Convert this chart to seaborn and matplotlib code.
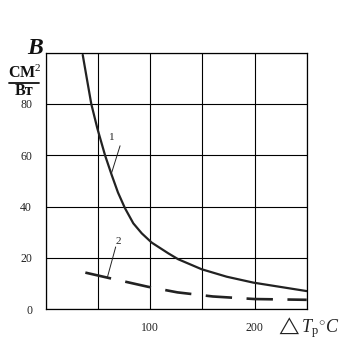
import numpy as np
import pandas as pd
import seaborn as sns
import matplotlib
matplotlib.use("Agg")
import matplotlib.pyplot as plt

# data
x1 = [35.2, 39, 43.4, 49.2, 56.6, 63, 69, 75.7, 83.7, 91.8, 101.3, 117.3, 126.8, 149.3, 173.3, 198.8, 250]
y1 = [99.1, 90.2, 80, 70.5, 60, 52.3, 45.5, 39.4, 33.5, 29.6, 26.0, 21.8, 19.5, 15.6, 12.7, 10.4, 7.1]
x2 = [37.7, 60.3, 97.5, 126, 160, 200, 250]
y2 = [14.3, 12.2, 8.8, 6.6, 5.0, 4.0, 3.7]
xticks = [100, 200]
yticks = [0, 20, 40, 60, 80]

sns.set_theme(style="white")
plt.rcParams['font.family'] = ['Liberation Serif', 'DejaVu Serif']
plt.rcParams['mathtext.fontset'] = 'custom'
plt.rcParams['mathtext.rm'] = 'Liberation Serif'
plt.rcParams['mathtext.it'] = 'Liberation Serif:italic'
plt.rcParams['mathtext.bf'] = 'Liberation Serif:bold'

fig = plt.figure(figsize=(3.41, 3.58), dpi=100)
ax = fig.add_axes([0.135, 0.136, 0.7644, 0.717])

d1 = pd.DataFrame({"x": x1, "y": y1})
d2 = pd.DataFrame({"x": x2, "y": y2})
sns.lineplot(data=d1, x="x", y="y", ax=ax, color="#222222", linewidth=1.6, sort=False)
sns.lineplot(data=d2, x="x", y="y", ax=ax, color="#222222", linewidth=1.9,
             linestyle=(0, (10, 5.5)), sort=False)

ax.set_xlim(0, 250)
ax.set_ylim(0, 100)
ax.set_xticks(np.arange(0, 251, 50))
ax.set_yticks(np.arange(0, 101, 20))
ax.grid(True, color="black", linewidth=0.8)
ax.set_xticklabels(["" if v not in xticks else str(v) for v in range(0, 251, 50)])
ax.set_yticklabels(["" if v not in yticks else str(v) for v in range(0, 101, 20)])
ax.tick_params(axis="both", length=0, labelsize=8.5, colors="#222222")
ax.tick_params(axis="x", pad=9)
ax.tick_params(axis="y", pad=10)
for s in ax.spines.values():
    s.set_visible(True)
    s.set_color("black")
    s.set_linewidth(0.9)
ax.set_xlabel("")
ax.set_ylabel("")

# curve labels with leader lines
ax.text(62.9, 67, "1", fontsize=8, ha="center", va="center", color="#222222")
ax.plot([71, 63], [63.7, 53.3], color="#222222", linewidth=0.7)
ax.text(69.4, 26.5, "2", fontsize=8, ha="center", va="center", color="#222222")
ax.plot([66.8, 58.8], [24.3, 12.4], color="#222222", linewidth=0.7)

# axis titles
fig.text(35/341, 1 - 49/358, "B", fontsize=17, fontweight="bold", fontstyle="italic",
         ha="center", va="center", color="#111111")
fig.text(25/341, 1 - 73/358, "СМ$^2$", fontsize=11.5, fontweight="bold",
         ha="center", va="center", color="#111111")
fig.add_artist(plt.Line2D([9/341, 39/341], [1 - 83/358, 1 - 83/358], color="#111111", linewidth=1.3))
fig.text(24/341, 1 - 91/358, "Вт", fontsize=11.5, fontweight="bold",
         ha="center", va="center", color="#111111")
fig.text(308/341, 1 - 328/358, r"$\triangle \mathit{T}_{\mathrm{р}}{}^{\circ}C$", fontsize=13,
         ha="center", va="center", color="#222222")

fig.savefig("out.png", dpi=100)
